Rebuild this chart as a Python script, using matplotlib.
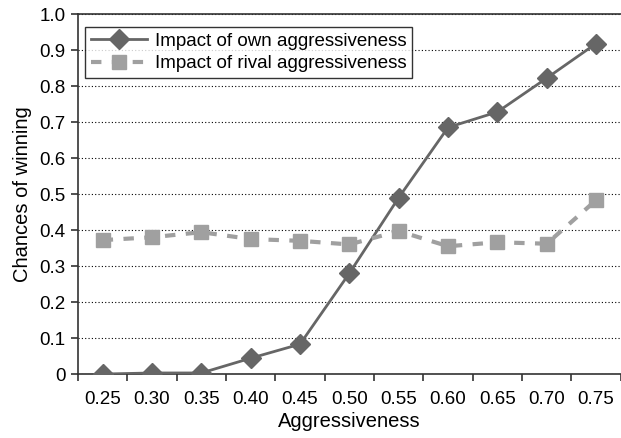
import numpy as np
import matplotlib.pyplot as plt

# --- data ---
categories = ['0.25', '0.30', '0.35', '0.40', '0.45', '0.50', '0.55', '0.60', '0.65', '0.70', '0.75']
own_impact = [0.0, 0.003, 0.003, 0.044, 0.083, 0.28, 0.49, 0.685, 0.728, 0.822, 0.918]
rival_impact = [0.372, 0.38, 0.394, 0.375, 0.37, 0.36, 0.397, 0.355, 0.366, 0.362, 0.483]

plt.rcParams['font.family'] = ['Liberation Sans', 'DejaVu Sans']

fig = plt.figure(figsize=(6.21, 4.38), dpi=100)
ax = fig.add_axes([0.1256, 0.146, 0.874, 0.822])

x = np.arange(len(categories))
ax.plot(x, own_impact, color='#666666', lw=2, marker='D', ms=10,
        label='Impact of own aggressiveness', zorder=3)
ax.plot(x, rival_impact, color='#a0a0a0', lw=3, ls=(0, (2.5, 2.5)), marker='s', ms=10.5,
        label='Impact of rival aggressiveness', zorder=3)

ax.set_xlim(-0.5, len(categories) - 0.5)
ax.set_ylim(0, 1.0)
ax.set_yticks(np.arange(0, 1.01, 0.1))
ax.set_yticklabels(['0'] + [f'{v:.1f}' for v in np.arange(0.1, 1.01, 0.1)])
ax.set_xticks(x)
ax.set_xticklabels(categories)
ax.set_xticks(np.arange(-0.5, len(categories)), minor=True)
ax.tick_params(axis='x', which='major', length=0, pad=12, labelsize=13.5)
ax.tick_params(axis='x', which='minor', length=5, width=1.2, color='#333333')
ax.tick_params(axis='y', length=5, width=1.2, color='#333333', labelsize=13.5, pad=4)

ax.grid(axis='y', ls=(0, (1, 2)), color='black', lw=0.8)
ax.set_axisbelow(True)

ax.spines['right'].set_visible(False)
for side in ['left', 'bottom', 'top']:
    ax.spines[side].set_color('#333333')
    ax.spines[side].set_linewidth(1.2)

ax.set_xlabel('Aggressiveness', fontsize=14.5, labelpad=3)
ax.set_ylabel('Chances of winning', fontsize=14.5, labelpad=5)

leg = ax.legend(loc='upper left', bbox_to_anchor=(0.0, 0.985), fontsize=13.5,
                frameon=True, fancybox=False, edgecolor='black', handlelength=3.0,
                borderpad=0.3, labelspacing=0.3, handletextpad=0.4, borderaxespad=0.4)
leg.get_frame().set_linewidth(1.0)

plt.savefig('out.png', dpi=100)
plt.close()
